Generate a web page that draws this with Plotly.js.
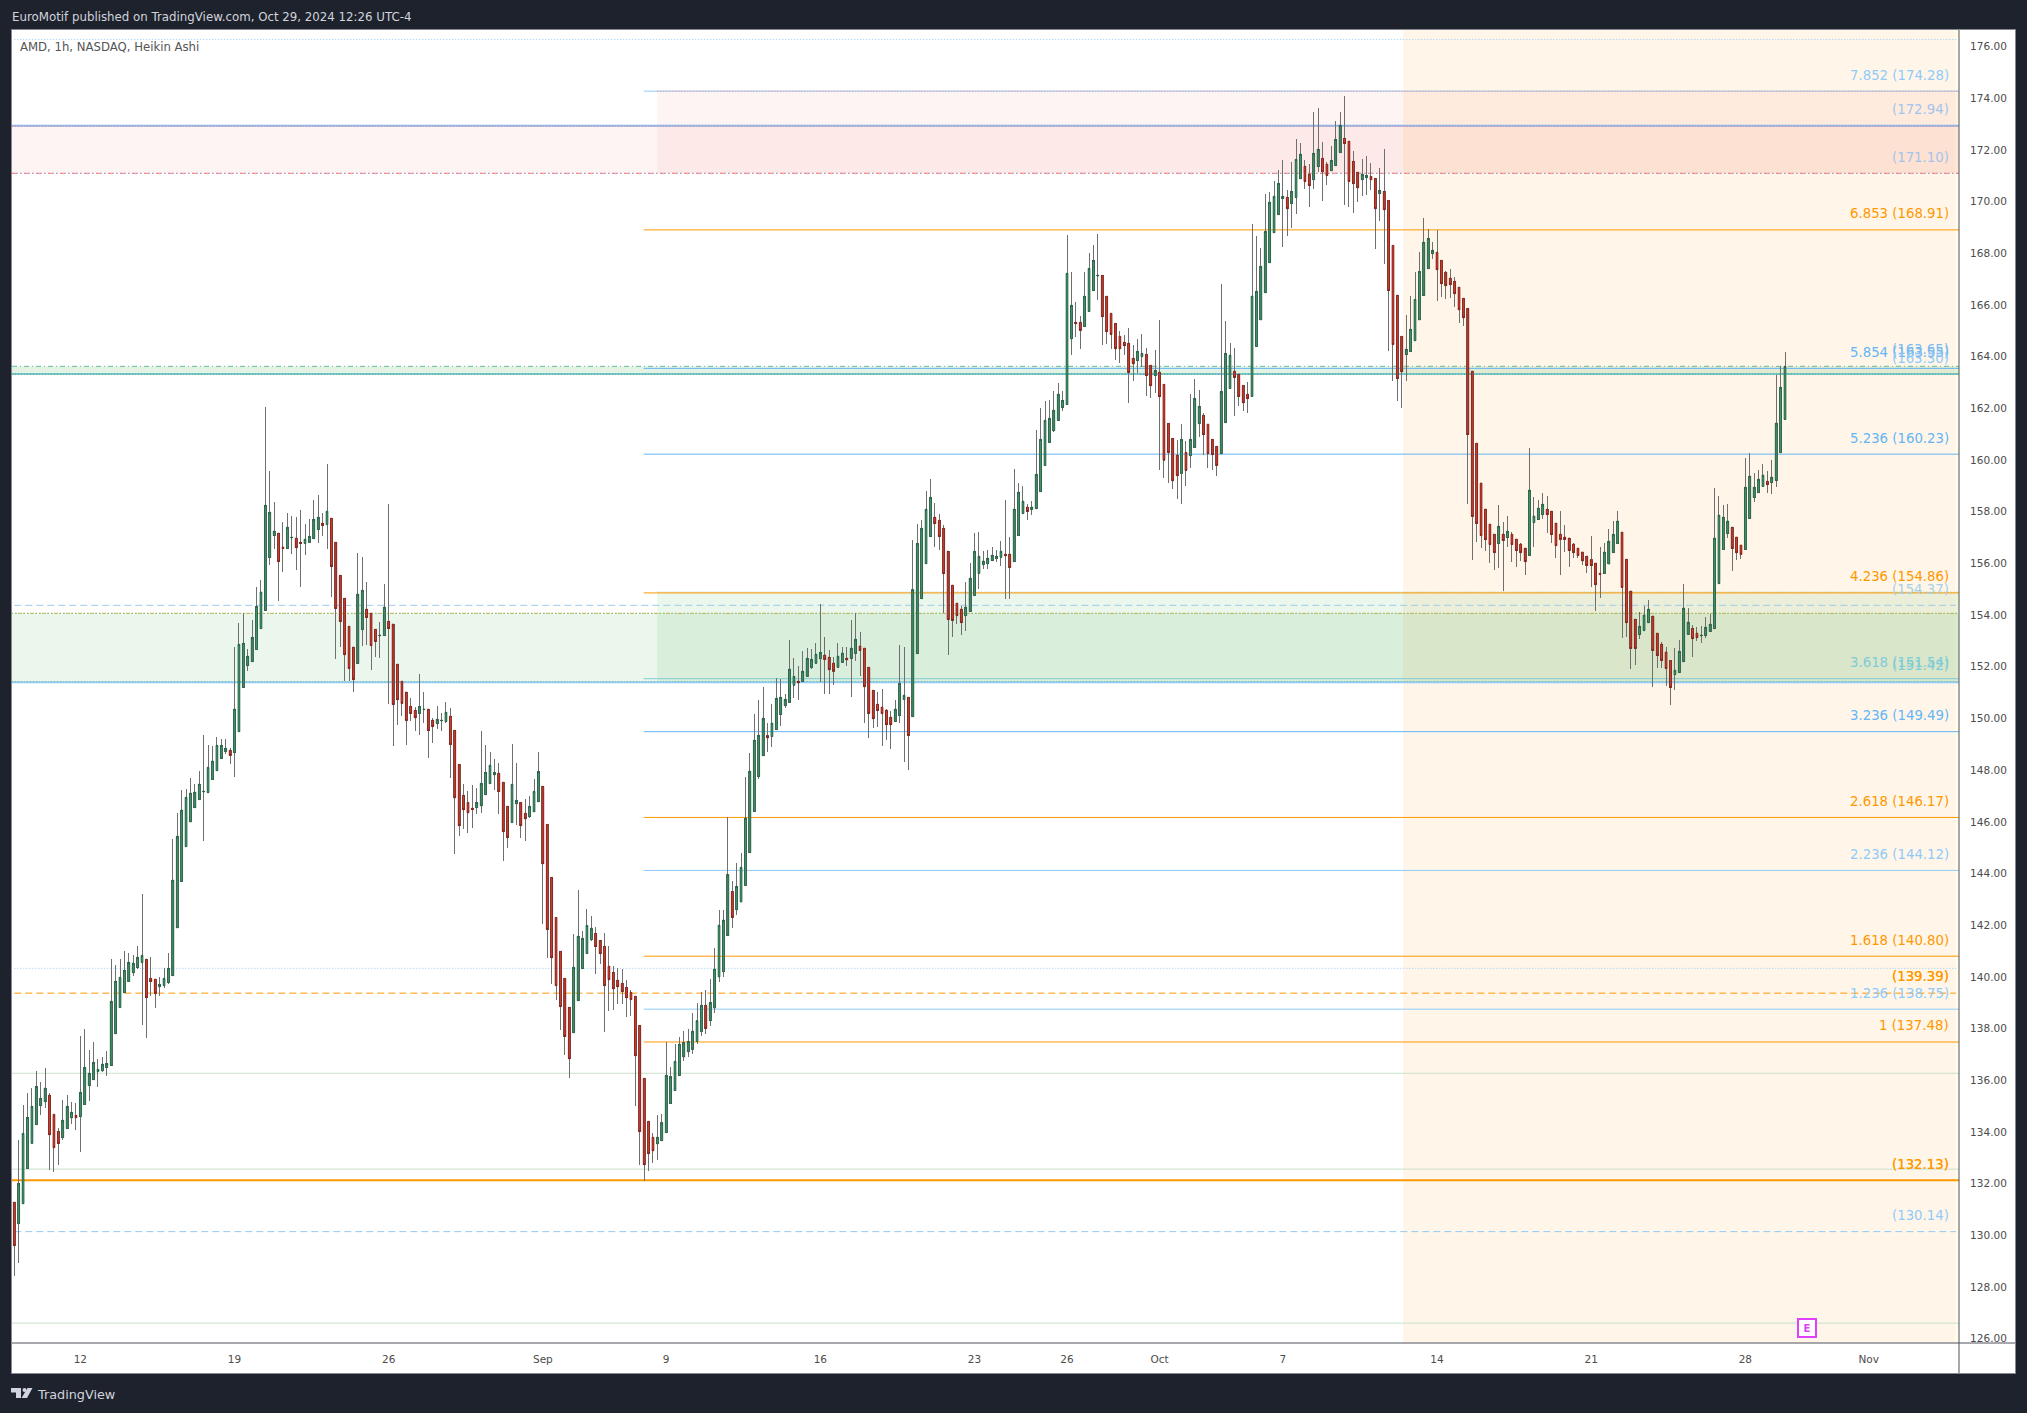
<!DOCTYPE html>
<html>
<head>
<meta charset="utf-8">
<title>AMD, 1h, NASDAQ, Heikin Ashi</title>
<script src="https://cdn.plot.ly/plotly-3.0.1.min.js"></script>
<style>
html, body { margin: 0; padding: 0; background: #1e222d; }
.boxlayer .trace:first-child path { shape-rendering: crispEdges !important; }
</style>
</head>
<body>
<div id="plot" style="width:2027px;height:1413px;"></div>
<script>
var opens = [
131.28,130.45,131.22,132.58,133.56,134.28,135.02,135.17,135.42,134.68,
134.02,133.78,134.13,134.55,134.64,134.59,135.06,135.79,136.02,136.33,
136.37,136.49,136.57,137.80,138.81,139.39,139.83,140.16,140.36,140.55,
140.68,139.94,139.91,139.62,139.66,139.78,140.05,141.90,143.69,145.04,
146.00,146.55,146.86,147.16,147.13,147.64,147.98,148.45,148.72,148.77,
148.68,149.49,151.20,152.05,152.20,152.67,153.48,154.18,156.23,157.08,
157.17,156.63,156.58,156.99,156.98,156.82,156.77,156.83,156.96,157.31,
157.56,157.50,157.75,156.82,155.54,154.65,153.57,152.76,152.13,153.44,
154.23,154.07,153.45,153.20,153.21,153.76,153.65,152.10,151.44,151.02,
150.47,150.32,150.19,150.34,150.36,149.93,149.80,149.91,149.88,150.09,
149.54,148.22,147.02,146.75,146.53,146.55,146.62,147.05,147.48,147.82,
147.88,147.53,146.60,145.97,146.70,146.75,146.33,146.20,146.39,146.78,
147.37,145.90,143.85,142.30,140.99,139.94,138.82,137.84,139.08,140.32,
140.90,141.44,141.68,141.41,141.18,140.41,140.17,139.87,139.75,139.59,
139.40,139.25,138.12,136.07,134.41,133.79,133.54,133.66,133.97,135.10,
135.60,136.19,136.90,137.10,137.20,137.50,137.90,138.90,138.30,138.80,
140.00,140.20,141.60,143.30,142.60,142.90,143.55,144.81,146.40,147.75,
148.56,149.33,149.30,149.57,150.15,150.50,150.63,151.29,151.44,151.43,
151.63,151.98,152.14,152.31,152.45,152.37,152.14,151.98,152.18,152.33,
152.33,152.53,152.80,152.72,151.98,151.09,150.55,150.44,150.32,150.05,
149.88,150.11,150.73,150.82,150.07,152.51,154.64,155.99,157.04,157.79,
157.67,157.36,156.47,155.16,154.46,154.23,153.98,154.14,154.76,155.61,
155.96,155.99,156.11,156.19,156.24,156.36,156.36,156.07,157.08,157.93,
158.18,158.09,158.12,158.78,159.79,160.68,161.14,161.54,162.03,162.15,
164.70,165.33,165.33,165.17,165.75,166.56,167.13,167.15,166.34,165.68,
165.29,164.79,164.56,164.52,163.94,163.85,164.00,164.09,163.67,163.27,
163.40,162.93,161.42,160.84,160.19,159.50,160.30,160.17,160.50,161.41,
161.73,161.39,160.80,160.53,160.25,161.45,162.77,163.44,163.32,162.89,
162.55,162.46,164.40,165.43,166.48,167.64,168.80,169.50,170.13,170.17,
169.93,170.16,170.89,171.37,171.06,170.85,171.36,171.68,171.45,171.20,
171.40,171.90,172.45,172.34,171.56,171.14,170.85,170.93,170.98,170.90,
170.31,170.40,170.05,168.31,166.38,164.79,164.08,164.20,164.62,165.43,
166.37,167.41,167.99,168.04,167.73,167.27,167.04,166.92,166.69,166.26,
165.87,163.44,160.65,159.11,158.10,157.52,157.13,156.77,157.13,157.00,
157.13,156.94,156.75,156.59,156.31,157.58,157.70,157.89,158.10,158.02,
157.56,157.13,157.02,156.98,156.75,156.59,156.44,156.28,156.14,156.01,
155.62,155.61,155.98,156.42,156.77,157.21,156.16,154.93,153.84,153.25,
153.40,153.71,153.96,153.30,152.87,152.57,152.24,151.70,151.78,152.20,
153.26,153.49,153.30,153.20,153.21,153.37,153.48,155.22,156.54,157.16,
157.40,157.02,156.71,156.54,157.74,158.55,158.74,158.98,159.18,159.13,
159.21,160.29,161.57];
var closes = [
129.60,132.01,133.94,134.56,134.99,135.76,135.30,135.69,133.89,133.39,
133.55,134.45,134.99,134.76,134.55,135.53,136.50,136.27,136.69,136.42,
136.62,136.65,139.05,139.83,139.98,140.25,140.56,140.53,140.76,140.83,
139.20,139.82,139.35,139.71,139.94,140.33,143.74,145.44,146.45,146.95,
147.11,147.15,147.46,147.18,148.11,148.35,148.96,148.96,148.85,148.57,
150.36,152.87,152.91,152.41,153.14,154.34,154.89,158.25,157.98,157.25,
156.07,156.58,157.40,157.01,156.61,156.77,156.94,157.05,157.71,157.79,
157.47,158.02,155.88,154.25,153.75,152.47,151.93,151.51,154.81,154.96,
153.91,152.82,152.98,153.22,154.31,153.48,150.54,150.73,150.58,149.92,
150.19,150.03,150.47,150.36,149.53,149.69,149.97,149.93,150.24,148.99,
146.93,145.85,146.47,146.35,146.48,146.75,147.49,147.91,148.19,147.91,
147.17,145.62,145.39,147.45,146.83,145.85,146.12,146.60,147.18,147.95,
144.38,141.83,140.74,139.66,138.85,137.69,136.83,140.37,141.57,141.49,
141.99,141.88,141.17,140.90,139.66,139.89,139.54,139.62,139.43,139.19,
139.12,136.95,134.01,132.73,133.16,133.27,133.79,134.35,136.19,136.13,
136.73,137.39,137.45,137.50,137.90,138.30,138.90,138.00,139.00,140.30,
142.00,142.20,143.95,142.30,143.50,144.24,146.14,147.96,149.16,149.35,
150.01,149.25,149.82,150.78,150.82,150.74,151.91,151.63,151.38,151.83,
152.33,152.29,152.49,152.56,152.28,151.89,151.83,152.41,152.53,152.27,
152.72,153.07,152.63,151.23,150.19,149.99,150.31,150.19,149.76,149.76,
150.36,151.36,150.90,149.34,154.98,156.78,157.36,158.10,158.56,157.54,
157.04,155.61,153.83,153.79,153.98,153.71,154.31,155.43,156.47,156.28,
156.09,156.20,156.32,156.28,156.47,156.30,155.84,158.10,158.76,158.41,
158.01,158.18,159.45,160.80,161.54,161.62,161.93,162.55,162.31,167.23,
165.99,165.28,165.02,166.34,167.42,167.73,167.15,165.55,164.97,164.86,
164.31,164.31,164.43,163.39,163.73,164.21,164.13,163.27,162.88,163.47,
162.46,160.00,160.29,159.20,159.40,160.80,159.60,160.80,162.39,162.08,
160.99,160.25,160.21,159.80,162.66,164.13,164.06,163.20,162.46,162.22,
162.38,166.34,166.53,167.50,168.85,169.98,170.21,170.71,170.21,169.73,
170.40,171.64,171.84,170.78,170.62,171.87,172.03,171.16,171.01,171.60,
172.41,172.96,172.25,170.78,170.70,170.54,171.06,171.02,170.85,169.73,
170.44,169.69,166.56,164.47,163.15,163.42,164.29,165.06,166.22,167.30,
168.43,168.58,168.12,167.37,166.83,166.75,166.79,166.44,165.82,165.51,
160.99,157.82,157.55,157.08,156.93,156.73,156.42,157.44,156.89,157.25,
156.73,156.50,156.42,156.07,158.84,157.83,158.14,158.29,157.89,157.12,
156.69,156.93,156.93,156.50,156.42,156.31,156.10,155.92,155.92,155.18,
155.58,156.44,156.86,157.13,157.64,155.07,153.71,152.71,152.71,153.57,
154.00,154.23,152.63,152.44,152.24,151.93,151.20,151.87,152.60,154.27,
153.73,153.09,153.13,153.22,153.53,153.65,156.98,157.87,157.79,157.64,
156.58,156.42,156.35,158.95,159.38,158.95,159.26,159.42,159.05,159.34,
161.43,162.82,163.63];
var highs = [
131.28,133.69,135.04,135.52,135.70,136.36,135.93,136.47,135.52,134.68,
134.15,135.24,135.43,135.17,135.12,137.71,137.98,137.17,137.48,136.81,
136.90,137.13,140.69,140.46,140.69,141.00,140.92,140.85,141.20,143.21,
140.68,140.77,139.91,140.01,140.34,140.92,145.34,146.34,147.23,147.27,
147.70,147.47,147.97,149.37,148.98,148.94,149.30,149.21,149.21,148.85,
152.77,153.69,154.09,152.69,153.81,155.09,155.36,162.06,159.58,158.38,
157.17,157.61,157.96,157.83,157.80,158.07,157.53,157.72,158.46,158.65,
157.96,159.85,157.75,156.82,155.54,154.65,153.57,152.76,156.41,156.25,
155.29,154.07,153.45,153.74,155.21,158.30,153.65,152.10,151.44,151.02,
150.80,150.43,151.73,151.03,150.36,150.02,150.49,150.23,150.64,150.41,
149.54,148.22,147.46,147.19,147.42,147.31,149.51,148.97,148.70,148.43,
148.28,147.53,146.60,149.01,148.28,146.75,146.88,147.00,147.64,148.70,
147.37,145.90,143.85,142.30,140.99,139.94,138.82,141.66,143.36,141.77,
142.63,142.35,141.93,141.41,141.70,141.19,140.42,140.34,140.32,139.87,
139.49,139.25,138.12,136.07,134.41,133.94,134.65,134.70,137.47,136.53,
137.41,137.66,137.90,138.00,138.60,139.00,139.40,139.50,139.90,141.10,
142.60,142.60,146.18,143.70,144.42,144.78,147.74,148.66,150.18,150.72,
151.21,149.82,150.56,151.56,151.52,150.95,153.03,152.33,152.03,152.60,
152.73,152.68,152.92,154.42,153.16,152.64,152.37,152.92,152.77,152.76,
153.82,154.07,153.34,152.72,151.98,151.09,151.03,151.14,150.36,150.28,
150.72,152.85,152.77,150.82,156.91,157.53,157.69,158.81,159.27,158.34,
157.92,157.49,156.47,155.16,154.46,154.36,155.29,156.02,157.18,157.22,
156.49,156.52,156.63,156.52,156.87,158.46,157.03,159.64,159.12,159.00,
158.30,158.42,161.17,162.00,162.29,162.31,162.67,162.99,162.67,168.71,
167.28,166.11,165.58,167.28,168.02,168.33,168.75,167.15,166.34,165.68,
165.29,165.00,164.84,165.11,164.46,164.69,164.88,164.34,163.67,164.26,
165.42,162.93,161.42,160.84,160.78,161.40,160.74,162.56,163.14,162.71,
161.81,161.39,160.80,160.53,166.82,165.38,164.53,164.34,163.32,162.89,
163.02,169.14,168.67,168.21,170.30,170.38,170.80,171.23,171.61,170.45,
171.54,172.43,172.26,171.60,171.46,173.47,173.63,172.30,171.53,172.16,
173.12,173.47,174.09,172.34,171.96,171.14,171.65,171.77,171.50,170.90,
171.30,172.04,170.05,168.31,166.38,164.79,165.60,166.34,167.28,168.05,
169.37,168.95,168.44,168.91,167.73,167.31,167.38,167.07,166.69,166.26,
165.87,163.44,160.65,159.11,158.10,157.52,157.13,158.27,157.61,157.84,
157.21,156.94,156.78,156.59,160.47,158.58,158.45,158.73,158.62,158.02,
157.56,158.03,157.49,156.98,156.78,156.59,156.44,156.28,157.08,156.01,
156.64,156.80,157.34,157.65,158.03,157.21,156.16,154.93,153.84,154.13,
154.37,154.59,153.96,153.30,152.95,152.77,152.24,152.73,153.04,155.21,
154.27,153.62,153.53,153.57,153.93,154.05,158.93,158.62,158.27,158.31,
157.40,157.02,156.71,160.09,160.28,159.51,159.62,159.85,159.58,160.01,
163.31,163.63,164.18];
var lows = [
128.43,128.94,131.22,132.58,133.56,134.28,134.66,134.93,132.53,132.46,
132.72,133.69,134.13,134.31,134.07,133.22,135.06,135.20,136.02,135.74,
136.33,136.18,136.57,137.80,138.81,139.39,139.83,140.05,140.32,138.14,
137.65,139.26,138.80,139.26,139.58,139.74,140.05,141.90,143.69,145.04,
146.00,146.55,146.86,145.24,147.13,147.64,147.98,148.45,148.63,148.24,
147.75,149.49,151.20,151.85,152.20,152.67,153.48,154.18,155.94,156.56,
154.55,155.67,156.58,156.37,155.75,155.09,156.33,156.83,156.96,156.79,
157.08,156.56,154.70,152.31,152.77,151.44,151.44,151.03,152.13,152.81,
152.85,151.88,152.38,152.34,153.21,150.56,148.94,149.75,150.10,148.98,
149.92,149.52,149.36,149.84,148.47,149.05,149.61,149.53,149.84,147.70,
144.75,145.45,145.72,145.57,145.77,146.30,146.35,147.05,147.48,147.23,
146.31,144.50,144.99,145.97,145.88,145.37,145.26,146.16,146.39,146.78,
142.05,140.73,139.72,139.10,137.94,136.98,136.09,137.84,139.08,140.32,
140.90,141.40,140.11,140.51,137.87,138.68,138.72,138.95,138.95,138.45,
138.49,135.00,132.72,132.11,132.49,132.80,132.91,133.66,133.97,135.10,
135.60,136.19,136.75,136.90,137.00,137.40,137.70,137.80,138.10,138.60,
139.80,140.00,141.60,141.90,142.40,142.90,143.55,144.81,146.40,147.67,
148.56,148.72,148.91,149.57,149.71,150.42,150.63,150.80,150.72,151.43,
151.63,151.93,152.14,151.43,150.95,150.95,151.30,151.98,152.18,152.03,
150.84,152.23,151.65,149.83,149.25,149.63,149.67,148.94,149.17,148.82,
149.88,149.83,148.32,148.01,150.07,152.51,154.64,155.99,157.04,156.64,
156.52,154.07,152.46,153.17,153.67,153.25,153.40,154.14,154.76,155.03,
155.78,155.80,156.11,156.07,155.90,154.64,154.64,156.07,157.08,157.93,
157.69,157.89,158.12,158.78,159.79,160.68,161.10,161.54,161.91,162.15,
164.08,164.75,164.31,165.17,165.75,166.56,166.20,164.45,164.49,164.30,
163.88,163.76,164.07,162.21,163.06,163.37,163.62,162.48,162.40,162.61,
159.60,159.30,159.10,158.90,158.50,158.30,159.00,159.70,160.50,160.90,
160.20,159.70,159.60,159.40,160.25,161.45,162.77,161.72,162.11,161.91,
161.84,162.46,164.40,165.43,166.48,167.64,168.80,169.50,168.25,168.67,
168.98,169.53,170.89,170.49,169.80,170.49,171.14,170.03,170.65,171.20,
171.40,171.90,169.87,169.80,169.56,169.99,170.22,170.27,170.45,168.17,
169.25,167.59,164.22,163.06,162.29,162.02,163.06,164.20,164.62,165.43,
166.37,167.41,167.78,166.16,166.31,166.24,166.28,165.93,165.31,165.19,
158.32,156.14,156.84,156.59,156.49,156.02,155.75,155.83,154.94,156.64,
156.06,155.87,156.10,155.56,156.31,156.64,157.70,157.73,157.18,156.80,
156.22,155.56,156.46,155.87,156.22,156.23,155.95,155.64,155.09,154.17,
154.67,155.61,155.98,156.42,156.77,153.12,153.16,151.92,152.07,153.09,
153.40,153.71,151.22,151.96,151.96,151.26,150.53,151.12,151.78,152.20,
153.26,152.39,152.98,152.94,153.13,153.37,153.48,155.22,156.54,157.00,
155.71,156.14,156.18,156.54,157.74,158.38,158.74,158.98,158.73,158.69,
158.96,160.29,161.57];

var dateBars = [15, 50, 85, 120, 148, 183, 218, 239, 260, 288, 323, 358, 393, 421];
var dateLabels = ['12', '19', '26', 'Sep', '9', '16', '23', '26', 'Oct', '7', '14', '21', '28', 'Nov'];

var fibRatios = ['7.852', '6.853', '5.854', '5.236', '4.236', '3.618', '3.236', '2.618', '2.236', '1.618', '1.236', '1'];
var fibPrices = [174.28, 168.91, 163.55, 160.23, 154.86, 151.54, 149.49, 146.17, 144.12, 140.80, 138.75, 137.48];
var fibColors = ['#90caf9', '#ff9800', '#64b5f6', '#64b5f6', '#ff9800', '#7fcbd8', '#64b5f6', '#ff9800', '#90caf9', '#ff9800', '#90caf9', '#ff9800'];

var levelPrices = [172.94, 171.10, 163.65, 163.30, 154.37, 151.42, 139.39, 132.13, 130.14];
var levelColors = ['#a3c4ec', '#a3c4ec', '#7cbcf2', '#90caf9', '#a6d0e6', '#7fcbd8', '#ff9800', '#ff9800', '#90caf9'];

var earningsBar = 407;

var PX_L = 12, PX_R = 1959, PX_T = 30, PX_B = 1343;
function paperX(px) { return (px - PX_L) / (PX_R - PX_L); }
function paperY(py) { return (PX_B - py) / (PX_B - PX_T); }

var xStart = -0.52, xEnd = 441.5;
var yLow = 125.83, yHigh = 176.646;
var zoneBar = 146, fibBar = 142.9, sessionBar = 315.3;

var shapes = [];

function zone(x0, x1, y0, y1, color) {
    shapes.push({type: 'rect', xref: 'x', yref: 'y', x0: x0, x1: x1, y0: y0, y1: y1,
        fillcolor: color, line: {width: 0}, layer: 'below'});
}
function level(x0, x1, y, color, width, dash) {
    shapes.push({type: 'line', xref: 'x', yref: 'y', x0: x0, x1: x1, y0: y, y1: y,
        line: {color: color, width: width, dash: dash || 'solid'}, layer: 'below'});
}

// white panel behind the chart and both scales
shapes.push({type: 'rect', xref: 'paper', yref: 'paper',
    x0: paperX(11.5), x1: paperX(2015.5), y0: paperY(1373.5), y1: paperY(29.5),
    fillcolor: '#ffffff', line: {color: '#868993', width: 1}, layer: 'below'});

zone(sessionBar, 440.6, yLow, yHigh, 'rgba(255,152,0,0.085)');
zone(440.6, xEnd, yLow, yHigh, 'rgba(255,235,59,0.12)');
zone(xStart, xEnd, 171.10, 172.94, 'rgba(244,67,54,0.06)');
zone(zoneBar, xEnd, 171.10, 174.28, 'rgba(244,67,54,0.06)');
zone(xStart, xEnd, 151.40, 154.07, 'rgba(76,175,80,0.11)');
zone(zoneBar, xEnd, 151.40, 154.89, 'rgba(76,175,80,0.11)');
zone(xStart, xEnd, 163.33, 163.63, 'rgba(76,175,80,0.16)');

level(0, 441.1, 176.28, '#90caf9', 1, '1px,2px');
level(xStart, xEnd, 172.94, '#8ab8ee', 2);
level(xStart, xEnd, 172.92, '#f77d7d', 1, '1px,2px');
level(xStart, xEnd, 171.10, '#8ab8ee', 1, '2px,2px');
level(xStart, xEnd, 171.10, '#f77d7d', 1, '5px,3px,1px,3px');
level(xStart, xEnd, 163.63, '#66bb9a', 1, '5px,3px,1px,3px');
level(xStart, xEnd, 163.33, '#7cc5d6', 2);
level(xStart, xEnd, 163.33, '#4caf50', 1, '1px,2px');
level(xStart, xEnd, 154.07, '#ff9800', 1, '1px,2px');
level(xStart, xEnd, 154.07, '#81c784', 1, '1px,2px,1px,0px');
level(zoneBar, xEnd, 154.89, '#81c784', 1, '1px,2px');
level(xStart, xEnd, 151.40, '#90caf9', 2);
level(xStart, xEnd, 151.43, '#81c784', 1, '1px,2px');
level(0, 441.1, 140.33, '#90caf9', 1, '1px,2px');
level(0, 440.8, 139.37, '#ff9800', 1, '7px,4px');
level(0, 440.8, 154.38, '#9fcbe8', 1, '7px,4px');
level(0, 440.8, 130.14, '#90caf9', 1, '7px,4px');
level(xStart, xEnd, 136.27, '#c8dfca', 1);
level(xStart, xEnd, 132.56, '#c8dfca', 1);
level(xStart, xEnd, 126.60, '#c8dfca', 1);
level(xStart, xEnd, 132.13, '#ff9800', 2);

fibPrices.forEach(function (p, i) {
    level(fibBar, xEnd, p, fibColors[i], 1);
});
level(zoneBar, xEnd, 174.28, '#f77d7d', 1, '1px,2px');

// scale separators
shapes.push({type: 'line', xref: 'paper', yref: 'paper', x0: 1, x1: 1, y0: paperY(1373), y1: paperY(30),
    line: {color: '#50535e', width: 1}});
shapes.push({type: 'line', xref: 'paper', yref: 'paper', x0: paperX(12), x1: paperX(2015), y0: 0, y1: 0,
    line: {color: '#50535e', width: 1}});

// TradingView mark in the footer
function logoPath(pts) {
    return 'M' + pts.map(function (p) { return paperX(p[0]) + ',' + paperY(p[1]); }).join(' L') + ' Z';
}
shapes.push({type: 'path', xref: 'paper', yref: 'paper', fillcolor: '#d1d4dc', line: {width: 0},
    path: logoPath([[11, 1388], [21, 1388], [21, 1398], [16, 1398], [16, 1392.5], [11, 1392.5]])});
shapes.push({type: 'path', xref: 'paper', yref: 'paper', fillcolor: '#d1d4dc', line: {width: 0},
    path: logoPath([[27.5, 1388], [32.5, 1388], [27, 1398], [21.5, 1398]])});
shapes.push({type: 'circle', xref: 'paper', yref: 'paper', fillcolor: '#d1d4dc', line: {width: 0},
    x0: paperX(22.5), x1: paperX(26.5), y0: paperY(1392), y1: paperY(1388)});

var labelFont = 'DejaVu Sans, sans-serif';
var annotations = [];

function priceLabel(text, price, color, heavy, right) {
    annotations.push({
        text: text, xref: 'paper', yref: 'y', x: paperX(right), y: price,
        xanchor: 'right', yanchor: 'middle', yshift: 16, showarrow: false, borderpad: 0,
        font: {family: labelFont, size: 13.3, color: color, shadow: heavy ? '0 0 0.6px ' + color : 'none'}
    });
}
fibPrices.forEach(function (p, i) {
    priceLabel(fibRatios[i] + ' (' + p.toFixed(2) + ')', p, fibColors[i], false, 1950);
});
levelPrices.forEach(function (p, i) {
    priceLabel('(' + p.toFixed(2) + ')', p, levelColors[i], p === 139.39 || p === 132.13, 1950);
});

function pageText(text, px, py, size, color) {
    annotations.push({text: text, xref: 'paper', yref: 'paper', x: paperX(px), y: paperY(py),
        xanchor: 'left', yanchor: 'middle', showarrow: false, borderpad: 0,
        font: {family: labelFont, size: size, color: color}});
}
pageText('EuroMotif published on TradingView.com, Oct 29, 2024 12:26 UTC-4', 11, 16.5, 11.8, '#d1d4dc');
pageText('AMD, 1h, NASDAQ, Heikin Ashi', 19, 46.5, 11.7, '#555555');
pageText('TradingView', 36, 1394, 12.8, '#d1d4dc');

annotations.push({text: '<b>E</b>', xref: 'x', yref: 'paper', x: earningsBar, y: paperY(1328),
    xanchor: 'center', yanchor: 'middle', showarrow: false, width: 16, height: 16,
    bgcolor: '#ffffff', bordercolor: '#e040fb', borderwidth: 2, borderpad: 0,
    font: {family: labelFont, size: 10, color: '#e040fb'}});

var bars = opens.map(function (_, i) { return i; });

var wicks = {
    type: 'candlestick', x: bars, open: opens, high: highs, low: lows, close: closes,
    whiskerwidth: 0, hoverinfo: 'skip', showlegend: false,
    increasing: {line: {color: '#6f6f6f', width: 1}, fillcolor: 'rgba(0,0,0,0)'},
    decreasing: {line: {color: '#6f6f6f', width: 1}, fillcolor: 'rgba(0,0,0,0)'}
};
var bodies = {
    type: 'candlestick', x: bars, open: opens, close: closes,
    high: opens.map(function (o, i) { return Math.max(o, closes[i]); }),
    low: opens.map(function (o, i) { return Math.min(o, closes[i]); }),
    whiskerwidth: 0, showlegend: false,
    increasing: {line: {color: '#1f5f42', width: 0.8}, fillcolor: '#4c9a70'},
    decreasing: {line: {color: '#7f1d14', width: 0.8}, fillcolor: '#dc4232'}
};

var layout = {
    width: 2027, height: 1413,
    paper_bgcolor: '#1e222d', plot_bgcolor: '#ffffff',
    margin: {l: PX_L, r: 2027 - PX_R, t: PX_T, b: 1413 - PX_B, pad: 0},
    showlegend: false, boxgap: 0.42, dragmode: false,
    font: {family: labelFont},
    xaxis: {
        type: 'linear', range: [xStart, xEnd], showgrid: false, zeroline: false,
        rangeslider: {visible: false}, tickmode: 'array', tickvals: dateBars, ticktext: dateLabels,
        ticks: 'outside', ticklen: 6, tickcolor: 'rgba(0,0,0,0)',
        tickfont: {family: labelFont, size: 10.5, color: '#4c4c4c'}
    },
    yaxis: {
        side: 'right', range: [yLow, yHigh], showgrid: false, zeroline: false,
        tickmode: 'linear', tick0: 126, dtick: 2, tickformat: '.2f',
        ticks: 'outside', ticklen: 8, tickcolor: 'rgba(0,0,0,0)',
        tickfont: {family: labelFont, size: 10.5, color: '#4c4c4c'}
    },
    shapes: shapes,
    annotations: annotations
};

Plotly.newPlot('plot', [wicks, bodies], layout, {displayModeBar: false, staticPlot: true});
</script>
</body>
</html>
